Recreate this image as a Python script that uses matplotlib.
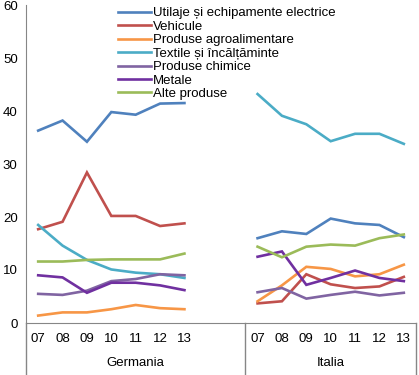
import numpy as np
import matplotlib
matplotlib.use("Agg")
import matplotlib.pyplot as plt

plt.rcParams['font.family'] = ['Liberation Sans', 'DejaVu Sans']

years = ["07", "08", "09", "10", "11", "12", "13"]
groups = ["Germania", "Italia"]

series_names = [
    "Utilaje și echipamente electrice",
    "Vehicule",
    "Produse agroalimentare",
    "Textile și încălțăminte",
    "Produse chimice",
    "Metale",
    "Alte produse",
]
colors = ["#4F81BD", "#C0504D", "#F79646", "#4BACC6", "#8064A2", "#7030A0", "#9BBB59"]

germania = [
    [36.3, 38.2, 34.2, 39.8, 39.3, 41.4, 41.5],
    [17.7, 19.1, 28.4, 20.2, 20.2, 18.3, 18.8],
    [1.4, 2.0, 2.0, 2.6, 3.4, 2.8, 2.6],
    [18.5, 14.6, 11.9, 10.1, 9.5, 9.2, 8.5],
    [5.5, 5.3, 6.1, 7.9, 8.3, 9.2, 9.0],
    [9.0, 8.6, 5.7, 7.6, 7.6, 7.1, 6.2],
    [11.6, 11.6, 11.9, 12.0, 12.0, 12.0, 13.1],
]
italia = [
    [16.0, 17.3, 16.8, 19.7, 18.8, 18.5, 16.2],
    [3.7, 4.1, 9.2, 7.3, 6.6, 6.9, 8.7],
    [4.1, 7.1, 10.6, 10.2, 8.8, 9.2, 11.0],
    [43.2, 39.1, 37.5, 34.3, 35.7, 35.7, 33.8],
    [5.8, 6.6, 4.6, 5.3, 5.9, 5.2, 5.7],
    [12.5, 13.5, 7.2, 8.5, 9.9, 8.5, 7.9],
    [14.4, 12.4, 14.4, 14.8, 14.6, 16.0, 16.7],
]

n = len(years)
gap = 2
x_ger = np.arange(n)
x_ita = np.arange(n) + n + gap
n_slots = 2 * n + gap

W, H = 419, 375
fig = plt.figure(figsize=(W / 100, H / 100), dpi=100)
left, right, bottom_px, top_px = 26, 416, 323, 5
ax = fig.add_axes([left / W, (H - bottom_px) / H, (right - left) / W, (bottom_px - top_px) / H])

for i, name in enumerate(series_names):
    ax.plot(x_ger, germania[i], color=colors[i], lw=1.9, label=name, solid_joinstyle='miter')
    ax.plot(x_ita, italia[i], color=colors[i], lw=1.9, solid_joinstyle='miter')

fs = 9.5
ax.set_xlim(-0.5, n_slots - 0.5)
ax.set_ylim(0, 60)
ax.set_yticks(range(0, 61, 10))
ax.tick_params(axis='y', length=0, labelsize=fs, pad=6)
ax.set_xticks([])
for s in ['top', 'right']:
    ax.spines[s].set_visible(False)
ax.spines['bottom'].set_color('#868686')
ax.spines['left'].set_color('#868686')

# category labels
trans = ax.get_xaxis_transform()
for xs in (x_ger, x_ita):
    for x, lab in zip(xs, years):
        ax.text(x, -0.05, lab, transform=trans, ha='center', va='center', fontsize=fs)
ax.text((-0.5 + n + gap - 0.5) / 2, -0.127, groups[0], transform=trans, ha='center', va='center', fontsize=fs)
ax.text((n + gap - 0.5 + n_slots - 0.5) / 2, -0.127, groups[1], transform=trans, ha='center', va='center', fontsize=fs)

# group separator lines below the axis
for xv in (-0.5, n + gap - 0.5, n_slots - 0.5):
    ax.plot([xv, xv], [0, -0.17], transform=trans, color='#868686', lw=1, clip_on=False)

ax.legend(loc='upper left', bbox_to_anchor=(0.235, 0.993), frameon=False, fontsize=fs,
          handlelength=2.5, handletextpad=0.2, labelspacing=0.09, borderpad=0, borderaxespad=0)

fig.savefig("out.png", dpi=100)
